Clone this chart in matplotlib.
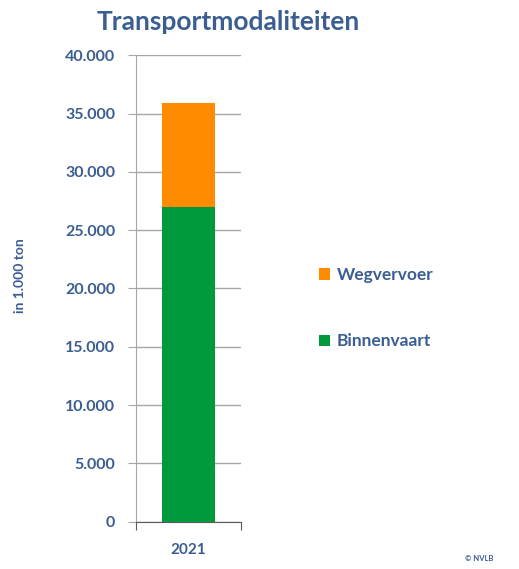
import matplotlib.pyplot as plt

# data, in 1.000 ton
years = ['2021']
binnenvaart = [27000]
wegvervoer = [8900]
series_names = ['Binnenvaart', 'Wegvervoer']
yticks = [0, 5000, 10000, 15000, 20000, 25000, 30000, 35000, 40000]

txt_color = '#3b5e92'
green = '#009a3c'
orange = '#ff8c00'

plt.rcParams['font.family'] = ['Lato', 'DejaVu Sans']

fig = plt.figure(figsize=(5.19, 5.69), dpi=100)
ax = fig.add_axes([0.262, 0.083, 0.202, 0.820])

x = range(len(years))
b1 = ax.bar(x, binnenvaart, width=0.5, color=green, label=series_names[0], zorder=3)
b2 = ax.bar(x, wegvervoer, width=0.5, bottom=binnenvaart, color=orange,
            label=series_names[1], zorder=3)

ax.set_xlim(-0.5, 0.5)
ax.set_ylim(0, 40000)
ax.set_yticks(yticks)
ax.set_yticklabels([f'{v:,}'.replace(',', '.') for v in yticks])
ax.set_xticks([-0.5, 0.5])
ax.set_xticklabels(['', ''])
ax.text(0, -0.045, years[0], transform=ax.get_xaxis_transform(), ha='center', va='top',
        color=txt_color, fontsize=11, fontweight='bold')

ax.grid(axis='y', color='#a6a6a6', linewidth=1, zorder=0)
for side in ['top', 'right']:
    ax.spines[side].set_visible(False)
ax.spines['left'].set_color('#a6a6a6')
ax.spines['bottom'].set_color('#595959')
ax.tick_params(axis='y', colors='#a6a6a6', length=6, labelcolor=txt_color, labelsize=11.5, pad=9)
ax.tick_params(axis='x', colors='#595959', length=6, direction='out')
for lbl in ax.get_yticklabels():
    lbl.set_fontweight('bold')

fig.text(0.039, 0.515, 'in 1.000 ton', rotation=90, ha='center', va='center',
         color=txt_color, fontsize=10, fontweight='bold')
fig.text(0.44, 0.962, 'Transportmodaliteiten', ha='center', va='center',
         color=txt_color, fontsize=19, fontweight='bold')

leg = fig.legend(handles=[b2, b1], labels=[series_names[1], series_names[0]],
                 loc='upper left', bbox_to_anchor=(0.585, 0.558), frameon=False,
                 handlelength=0.6, handleheight=0.6, handletextpad=0.4,
                 labelspacing=2.9, prop={'weight': 'bold', 'size': 12.5})
for t in leg.get_texts():
    t.set_color(txt_color)

fig.text(0.95, 0.012, '© NVLB', ha='right', va='bottom', color='#3b5e92',
         fontsize=5.5, fontweight='bold')

fig.savefig('out.png', dpi=100)
